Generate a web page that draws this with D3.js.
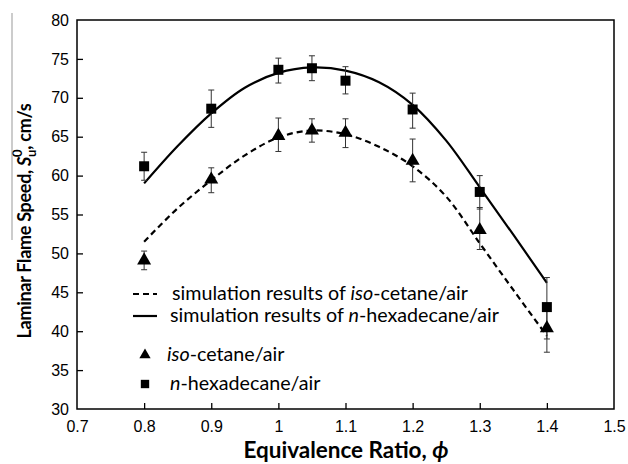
<!DOCTYPE html>
<html>
<head>
<meta charset="utf-8">
<script src="https://cdn.jsdelivr.net/npm/d3@7"></script>
<style>
  body { margin: 0; background: #fff; }
  text { fill: #000; }
</style>
</head>
<body>
<script>
// measured points (equivalence ratio)
var phiExp = [0.8, 0.9, 1.0, 1.05, 1.1, 1.2, 1.3, 1.4];
var hexaMean = [61.2, 68.6, 73.6, 73.8, 72.2, 68.5, 57.9, 43.1];
var hexaLow  = [59.4, 66.2, 71.9, 72.2, 70.5, 66.1, 55.7, 39.0];
var hexaHigh = [63.0, 71.0, 75.1, 75.4, 74.0, 70.6, 60.0, 46.9];
var isoMean = [49.1, 59.5, 65.1, 65.8, 65.5, 61.9, 53.0, 40.4];
var isoLow  = [47.9, 57.8, 63.1, 64.3, 63.6, 59.2, 50.5, 37.3];
var isoHigh = [50.3, 61.0, 67.4, 67.3, 67.3, 64.7, 55.9, 43.3];

// simulation curves
var phiSim = [0.8, 0.85, 0.9, 0.95, 1.0, 1.05, 1.1, 1.15, 1.2, 1.25, 1.3, 1.35, 1.4];
var hexaSim = [59.0, 63.8, 68.0, 71.3, 73.2, 73.9, 73.5, 72.0, 69.1, 64.5, 58.5, 52.4, 46.2];
var isoSim  = [51.5, 55.8, 59.4, 62.6, 64.9, 65.8, 65.3, 63.7, 61.2, 57.3, 51.3, 45.3, 39.4];

var xTicks = [0.7, 0.8, 0.9, 1, 1.1, 1.2, 1.3, 1.4, 1.5];
var yTicks = [30, 35, 40, 45, 50, 55, 60, 65, 70, 75, 80];

var width = 628, height = 464;
var margin = { top: 20, right: 14, bottom: 55, left: 77 };
var plotW = width - margin.left - margin.right;
var plotH = height - margin.top - margin.bottom;

var svg = d3.select("body").append("svg")
  .attr("width", width)
  .attr("height", height);

var g = svg.append("g")
  .attr("transform", `translate(${margin.left},${margin.top})`);

var x = d3.scaleLinear().domain([0.7, 1.5]).range([0, plotW]);
var y = d3.scaleLinear().domain([30, 80]).range([plotH, 0]);

var tickFont = "'Liberation Sans', Arial, sans-serif";
var textFont = "Lato, 'Open Sans', sans-serif";

// axes with inward ticks
var xAxis = g.append("g")
  .attr("transform", `translate(0,${plotH})`)
  .call(d3.axisBottom(x).tickValues(xTicks).tickSize(-6).tickPadding(12)
    .tickFormat(d3.format("")));
var yAxis = g.append("g")
  .call(d3.axisLeft(y).tickValues(yTicks).tickSize(-6).tickPadding(8));

[xAxis, yAxis].forEach(function(a) {
  a.select(".domain").remove();
  a.selectAll("line").attr("stroke", "#000").attr("stroke-width", 1.3);
  a.selectAll("text").style("font-family", tickFont).style("font-size", "16px").attr("fill", "#000");
});
xAxis.selectAll(".tick line").filter(function(d) { return d === 0.7 || d === 1.5; }).remove();
yAxis.selectAll(".tick line").filter(function(d) { return d === 30 || d === 80; }).remove();

// frame
g.append("rect")
  .attr("width", plotW).attr("height", plotH)
  .attr("fill", "none").attr("stroke", "#000").attr("stroke-width", 1.5);

// simulation lines
var line = d3.line().curve(d3.curveCatmullRom);
g.append("path")
  .attr("d", line(phiSim.map(function(p, i) { return [x(p), y(isoSim[i])]; })))
  .attr("fill", "none").attr("stroke", "#000").attr("stroke-width", 2.2)
  .attr("stroke-dasharray", "6,4");
g.append("path")
  .attr("d", line(phiSim.map(function(p, i) { return [x(p), y(hexaSim[i])]; })))
  .attr("fill", "none").attr("stroke", "#000").attr("stroke-width", 2.2);

// error bars
function errorBars(low, high) {
  var eb = g.append("g").attr("stroke", "#333").attr("stroke-width", 1);
  phiExp.forEach(function(p, i) {
    eb.append("line").attr("x1", x(p)).attr("x2", x(p)).attr("y1", y(low[i])).attr("y2", y(high[i]));
    [low[i], high[i]].forEach(function(v) {
      eb.append("line").attr("x1", x(p) - 3).attr("x2", x(p) + 3).attr("y1", y(v)).attr("y2", y(v));
    });
  });
}
errorBars(hexaLow, hexaHigh);
errorBars(isoLow, isoHigh);

var tri = d3.symbol().type(d3.symbolTriangle).size(85);
var sq = d3.symbol().type(d3.symbolSquare).size(100);

g.selectAll(".tri").data(phiExp).enter().append("path")
  .attr("d", tri)
  .attr("transform", function(d, i) { return `translate(${x(d)},${y(isoMean[i])})`; })
  .attr("fill", "#000");
g.selectAll(".sq").data(phiExp).enter().append("path")
  .attr("d", sq)
  .attr("transform", function(d, i) { return `translate(${x(d)},${y(hexaMean[i])})`; })
  .attr("fill", "#000");

// legend
var legend = svg.append("g").style("font-family", textFont).style("font-size", "19.7px");
var lx1 = 133, lx2 = 157, tx = 170;
legend.append("line").attr("x1", lx1).attr("x2", lx2).attr("y1", 294).attr("y2", 294)
  .attr("stroke", "#000").attr("stroke-width", 2.2).attr("stroke-dasharray", "6,4");
legend.append("line").attr("x1", lx1).attr("x2", lx2).attr("y1", 316).attr("y2", 316)
  .attr("stroke", "#000").attr("stroke-width", 2.2);
legend.append("path").attr("d", d3.symbol().type(d3.symbolTriangle).size(55))
  .attr("transform", "translate(145,355)");
legend.append("path").attr("d", d3.symbol().type(d3.symbolSquare).size(70))
  .attr("transform", "translate(145,384)");

var t1 = legend.append("text").attr("x", tx + 2).attr("y", 300);
t1.append("tspan").text("simulation results of ");
t1.append("tspan").style("font-style", "italic").text("iso");
t1.append("tspan").text("-cetane/air");
var t2 = legend.append("text").attr("x", tx).attr("y", 322);
t2.append("tspan").text("simulation results of ");
t2.append("tspan").style("font-style", "italic").text("n");
t2.append("tspan").text("-hexadecane/air");
var t3 = legend.append("text").attr("x", 167).attr("y", 361);
t3.append("tspan").style("font-style", "italic").text("iso");
t3.append("tspan").text("-cetane/air");
var t4 = legend.append("text").attr("x", 170).attr("y", 390);
t4.append("tspan").style("font-style", "italic").text("n");
t4.append("tspan").text("-hexadecane/air");

// axis titles
svg.append("text")
  .attr("x", 346).attr("y", 458)
  .attr("text-anchor", "middle")
  .style("font-family", textFont).style("font-size", "22.5px").style("font-weight", "bold")
  .text("Equivalence Ratio, ")
  .append("tspan").style("font-style", "italic").text("ϕ");

var yt = svg.append("text")
  .attr("transform", "translate(31,221) rotate(-90)")
  .attr("text-anchor", "middle")
  .style("font-family", textFont).style("font-size", "18px").style("font-weight", "bold")
  .style("letter-spacing", "-0.3px");
yt.append("tspan").text("Laminar Flame Speed, ");
yt.append("tspan").style("font-style", "italic").text("S");
yt.append("tspan").attr("dy", 5).style("font-size", "13px").text("u");
yt.append("tspan").attr("dy", -14).attr("dx", -7).style("font-size", "13px").text("0");
yt.append("tspan").attr("dy", 9).text(", cm/s");

// thin grey artefact line beside the y title
svg.append("line").attr("x1", 12).attr("x2", 12).attr("y1", 13).attr("y2", 240)
  .attr("stroke", "#999").attr("stroke-width", 1);
</script>
</body>
</html>
